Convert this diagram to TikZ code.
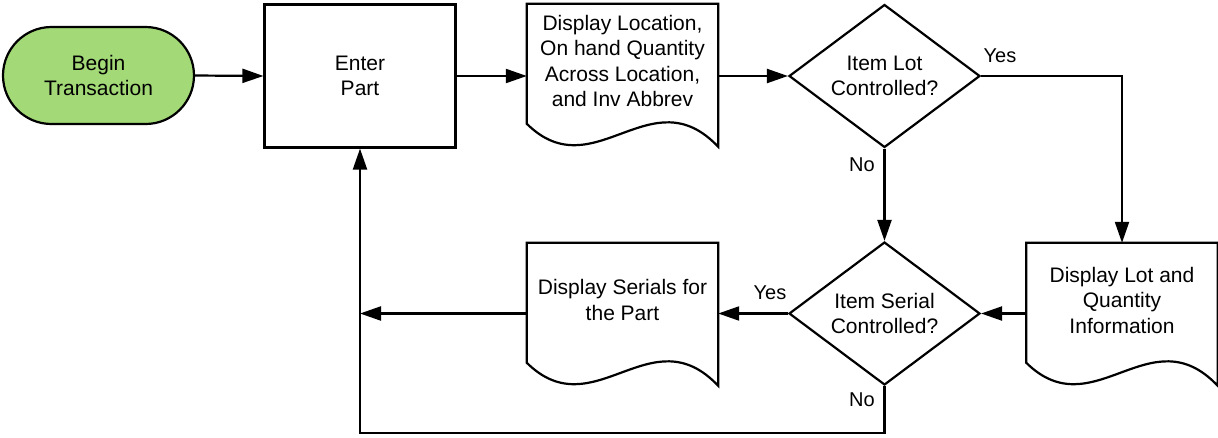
\documentclass[tikz,border=0pt]{standalone}
\usepackage{fontspec}
\setmainfont{Liberation Sans}
\usetikzlibrary{arrows.meta,shapes.geometric,calc}
\definecolor{startgreen}{RGB}{163,217,119}
\newcommand{\docoutline}[1]{%
  \draw[shapeline] (#1.north west) -- (#1.north east) -- ($(#1.north east)+(0,143)$)
    .. controls ($(#1.north west)+(124,71.5)$) and ($(#1.north west)+(67,186)$) ..
    ($(#1.north west)+(0,120)$) -- cycle;}
\begin{document}
\begin{tikzpicture}[x=1pt,y=-1pt,
  txt/.style={align=center,font=\fontsize{21}{25.5}\selectfont,inner sep=0pt},
  shapeline/.style={line width=2.2pt,line join=miter},
  startbox/.style={txt,shapeline,draw,fill=startgreen,rectangle,rounded corners=48.5pt,minimum width=191pt,minimum height=97pt},
  procbox/.style={txt,shapeline,draw,rectangle,minimum width=191pt,minimum height=143pt},
  docbox/.style={txt,rectangle,minimum width=191pt,minimum height=114pt},
  decbox/.style={txt,shapeline,draw,diamond,aspect=1.336,minimum width=191pt,minimum height=143pt},
  lab/.style={font=\fontsize{20}{24}\selectfont,inner sep=0pt},
  conn/.style={line width=2.2pt,-{Triangle[length=21pt,width=14pt]}},
  plain/.style={line width=2.2pt}]
\useasboundingbox (0,0) rectangle (1218,437);

\node[startbox] (begin) at (98.5,75.5) {Begin\\Transaction};
\node[procbox] (enter) at (360,76) {Enter\\Part};
\node[docbox] (doc1) at (622.5,61) {Display Location,\\On hand Quantity\\Across Location,\\and Inv Abbrev};
\docoutline{doc1}
\node[decbox] (d1) at (884.5,76) {Item Lot\\Controlled?};
\node[docbox] (doc2) at (1122,300) {Display Lot and\\Quantity\\Information};
\docoutline{doc2}
\node[decbox] (d2) at (884.5,313.5) {Item Serial\\Controlled?};
\node[docbox] (doc3) at (622.5,300) {Display Serials for\\the Part};
\docoutline{doc3}

\coordinate (back) at (enter.south |- d2.west);
\coordinate (loopc) at (enter.south |- 0,433);

\draw[conn] (begin.east) -- (enter.west);
\draw[conn] (enter.east) -- (enter.east -| doc1.west);
\draw[conn] (doc1.east |- d1.west) -- (d1.west);
\draw[conn] (d1.east) -| (doc2.north);
\draw[conn] (d1.south) -- (d2.north);
\draw[conn] (doc2.west |- d2.east) -- (d2.east);
\draw[conn] (d2.west) -- (d2.west -| doc3.east);
\draw[conn] (doc3.west |- d2.west) -- (back);
\draw[conn] (d2.south) |- (loopc) -- (enter.south);

\node[lab] (yes1) at (1000,56) {Yes};
\node[lab] (no1) at (862,165) {No};
\node[lab] (yes2) at (770,293) {Yes};
\node[lab] (no2) at (862,400) {No};
\end{tikzpicture}
\end{document}
